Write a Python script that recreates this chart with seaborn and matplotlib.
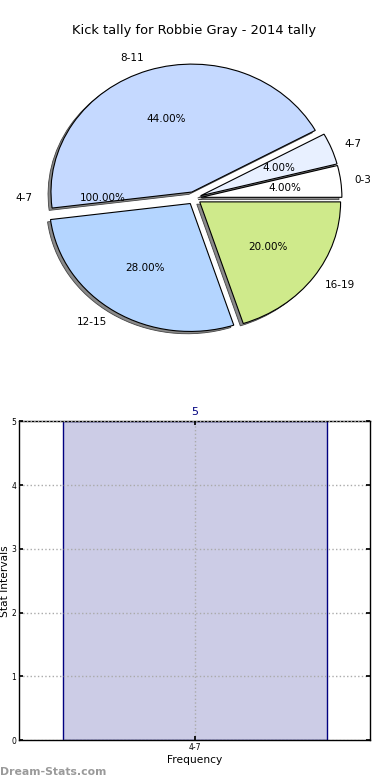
import matplotlib
matplotlib.use("Agg")
import matplotlib.pyplot as plt
import seaborn as sns
import pandas as pd

# Pie data: kick intervals and how many games fell in each
pie_labels = ['0-3', '4-7', '8-11', '12-15', '16-19']
pie_counts = [1, 1, 11, 7, 5]
pie_colors = ['#ffffff', '#e8f0ff', '#c5d9ff', '#b4d5ff', '#cfea8b']

# Bar data: frequency per stat interval
bar_labels = ['4-7']
bar_counts = [5]

title = 'Kick tally for Robbie Gray - 2014 tally'

sns.set_theme(style="white")
plt.rcParams['font.family'] = ['DejaVu Sans']
plt.rcParams['text.color'] = 'black'
plt.rcParams['axes.labelcolor'] = 'black'
plt.rcParams['xtick.color'] = 'black'
plt.rcParams['ytick.color'] = 'black'

fig = plt.figure(figsize=(3.9, 7.8), dpi=100)
ax_pie = fig.add_axes([0.046, 0.541, 0.903, 0.41])
ax_bar = fig.add_axes([0.049, 0.051, 0.900, 0.409])

# the overall tally sits underneath as an invisible full wedge (only its texts show)
ax_pie.pie(bar_counts, labels=bar_labels, autopct='%1.2f%%', explode=[0.05],
           colors=['none'], wedgeprops=dict(linewidth=0),
           textprops=dict(fontsize=7.5))
ax_pie.pie(pie_counts, labels=pie_labels, autopct='%1.2f%%',
           explode=[0.05] * len(pie_counts), colors=pie_colors,
           shadow=dict(ox=-0.015, oy=-0.013, facecolor='#8a8a8a',
                       edgecolor='#444444', linewidth=0.6, alpha=1),
           wedgeprops=dict(edgecolor='black', linewidth=0.8),
           textprops=dict(fontsize=7.5))
ax_pie.set_aspect('auto')
ax_pie.set_xlim(-1.25, 1.25)
ax_pie.set_ylim(-1.25, 1.25)
ax_pie.set_title(title, fontsize=9.4, pad=3)

# bar chart
df = pd.DataFrame({'interval': bar_labels, 'count': bar_counts})
sns.barplot(data=df, x='interval', y='count', ax=ax_bar, color='#ccccE6',
            saturation=1, edgecolor='#000080', linewidth=1, width=0.8)
ax_bar.bar_label(ax_bar.containers[0], color='#000080', fontsize=8, padding=3)
ax_bar.set_xlim(-0.532, 0.532)
ax_bar.set_ylim(0, 5)
ax_bar.grid(True, color='#aaaaaa', linestyle=':', linewidth=1)
ax_bar.set_axisbelow(False)
ax_bar.tick_params(direction='in', length=3, labelsize=5.5, right=True, top=True,
                   bottom=True, left=True, pad=2)
for s in ax_bar.spines.values():
    s.set_color('black')
    s.set_linewidth(1)
ax_bar.set_xlabel('Frequency', fontsize=7.7, labelpad=2)
ax_bar.set_ylabel('Stat Intervals', fontsize=7.7, labelpad=1)

fig.text(0.0, 0.004, 'Dream-Stats.com', color='#9a9a9a', fontsize=7.8,
         fontweight='bold', ha='left', va='bottom')

fig.savefig('out.png', dpi=100)
